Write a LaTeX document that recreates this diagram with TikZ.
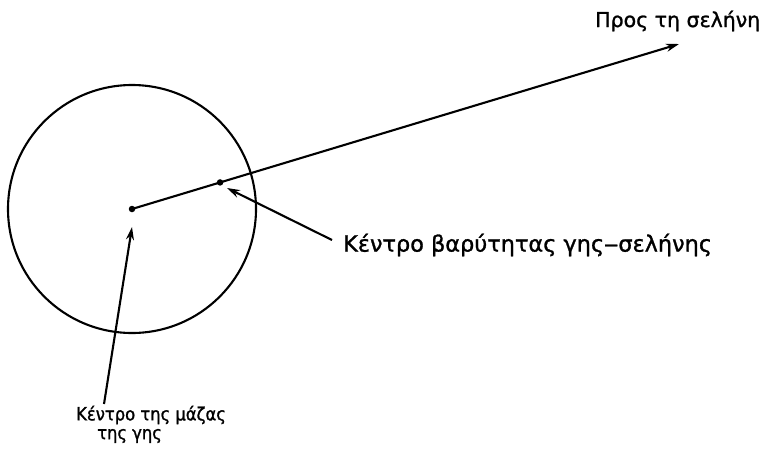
\documentclass[tikz,border=0pt]{standalone}
\usepackage{fontspec}
\setmainfont{DejaVu Sans}[FakeBold=1.2]
\newfontfamily\condfont{DejaVu Sans Condensed}[FakeBold=1.2]
\usetikzlibrary{arrows.meta,calc}
\tikzset{
  thickline/.style={line width=2.1pt, black},
  arr/.style={thickline, -{Stealth[length=13pt,width=8pt]}},
  dotmark/.style={circle, fill=black, inner sep=0pt, minimum size=6.5pt},
  lbl/.style={inner sep=0pt},
  lowlbl/.style={lbl, anchor=west, font=\condfont\fontsize{18.2}{21}\selectfont},
}
\begin{document}
\begin{tikzpicture}[x=1pt,y=-1pt]
\useasboundingbox (0,0) rectangle (769,456);
\coordinate (E) at (132,209);
\coordinate (M) at (679,44);
\coordinate (B) at ($(E)!0.161!(M)$);
\node[draw, thickline, circle, minimum size=248pt, inner sep=0pt] (earth) at (E) {};
\node[dotmark] (edot) at (E) {};
\node[dotmark] (bdot) at (B) {};
\draw[arr] (edot.center) -- (M);
\node[lbl, anchor=west, font=\fontsize{20.5}{24}\selectfont] (moon) at (595,21) {Προς τη σελήνη};
\node[lbl, anchor=west, font=\fontsize{22.4}{26}\selectfont] (bary) at (343,245) {Κέντρο βαρύτητας γης‒σελήνης};
\node[lowlbl] (com1) at (76,415) {Κέντρο της μάζας};
\node[lowlbl] (com2) at (97,436) {της γης};
\coordinate (baryTail) at (332,240);
\coordinate (baryTip) at (227,188);
\coordinate (comTail) at (104,404);
\coordinate (comTip) at (132,227);
\draw[arr] (baryTail) -- (baryTip);
\draw[arr] (comTail) -- (comTip);
\end{tikzpicture}
\end{document}
